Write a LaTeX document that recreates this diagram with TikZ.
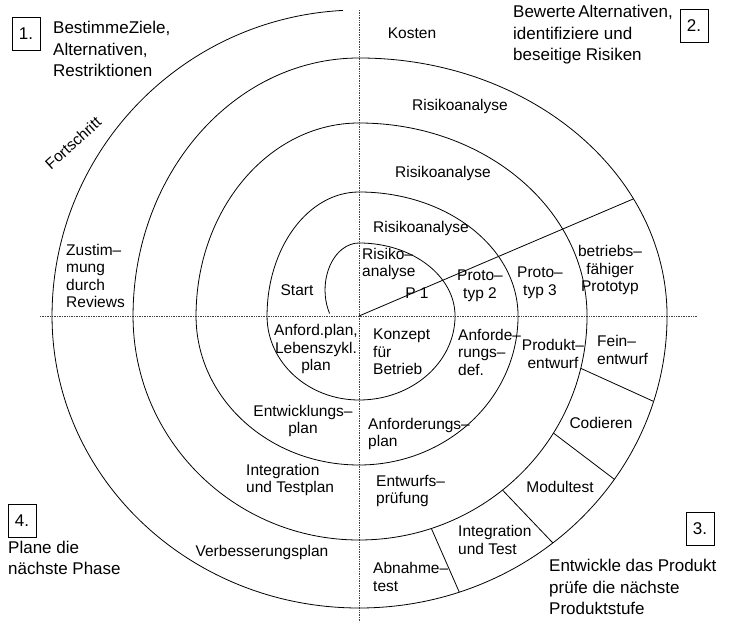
\documentclass[tikz,border=0pt]{standalone}
\usepackage{fontspec}
\setmainfont{Liberation Sans}
\tikzset{
  lbl/.style={font=\fontsize{15.5}{17.5}\selectfont, inner sep=0pt, align=center},
  lbll/.style={lbl, align=left, anchor=west},
  corner/.style={font=\fontsize{17}{21.5}\selectfont, inner sep=0pt, align=left, anchor=west},
  numbox/.style={draw, line width=0.8pt, minimum width=28pt, minimum height=33pt,
                 inner sep=0pt, font=\fontsize{17}{20}\selectfont},
  spiral/.style={line width=0.8pt},
  axis/.style={densely dotted, line width=0.7pt, black!75},
}

\begin{document}
\begin{tikzpicture}[x=1pt, y=1pt]
    \useasboundingbox (-359,-310) rectangle (372,316);

    % quadrant axes
    \draw[axis] (-319,0) -- (338,0);
    \draw[axis] (0,306) -- (0,-306);

    % spiral, one quarter at a time
    \coordinate (s0) at (-29.4,2.5);
    \draw[spiral] (s0) arc[start angle=210, end angle=90, x radius=34, y radius=47]
      arc[start angle=90, end angle=0, x radius=96, y radius=73]
      arc[start angle=0, end angle=-90, x radius=96, y radius=84]
      arc[start angle=-90, end angle=-180, x radius=92, y radius=84]
      arc[start angle=180, end angle=90, x radius=92, y radius=124]
      arc[start angle=90, end angle=0, x radius=159, y radius=124]
      arc[start angle=0, end angle=-90, x radius=159, y radius=149]
      arc[start angle=-90, end angle=-180, x radius=163, y radius=149]
      arc[start angle=180, end angle=90, x radius=163, y radius=193]
      arc[start angle=90, end angle=0, x radius=228, y radius=193]
      arc[start angle=0, end angle=-90, x radius=228, y radius=224]
      arc[start angle=-90, end angle=-180, x radius=226, y radius=224]
      arc[start angle=180, end angle=90, x radius=226, y radius=258]
      arc[start angle=90, end angle=0, x radius=308, y radius=258]
      arc[start angle=0, end angle=-90, x radius=308, y radius=292]
      arc[start angle=-90, end angle=-180, x radius=307, y radius=292]
      arc[start angle=180, end angle=93, x radius=307, y radius=306];

    % prototype ray and product-step dividers
    \draw[spiral] (0,0) -- (27:308 and 258);
    \foreach \a/\b in {-13.5/-17, -31.5/-34, -51/-51, -71.5/-71}
      \draw[spiral] (\a:228 and 224) -- (\b:308 and 292);

    % quadrant headings
    \node[numbox] (q1) at (-333,282) {1.};
    \node[corner] (goal1) at (-306,267) {BestimmeZiele,\\Alternativen,\\Restriktionen};
    \node[numbox] (q2) at (335,290) {2.};
    \node[corner] (goal2) at (154,281) {Bewerte\,Alternativen,\\identifiziere und\\beseitige Risiken};
    \node[numbox] (q3) at (341,-213) {3.};
    \node[corner] (goal3) at (190,-271) {Entwickle das Produkt\\prüfe die nächste\\Produktstufe};
    \node[numbox] (q4) at (-337,-205) {4.};
    \node[corner] (goal4) at (-351,-242) {Plane die\\nächste Phase};

    \node[lbl, rotate=42] (prog) at (-286,173) {Fortschritt};

    % quadrant 2
    \node[lbl] (cost) at (53,283) {Kosten};
    \node[lbl] (ra4) at (101,210) {Risikoanalyse};
    \node[lbl] (ra3) at (84,143) {Risikoanalyse};
    \node[lbl] (ra2) at (62,88) {Risikoanalyse};
    \node[lbll] (ra1) at (3,52) {Risiko–\\analyse};
    \node[lbl] (p1) at (58,23) {P 1};
    \node[lbl] (p2) at (121,30) {Proto–\\typ 2};
    \node[lbl] (p3) at (181,33) {Proto–\\typ 3};
    \node[lbl] (p4) at (251,46) {betriebs–\\fähiger\\Prototyp};

    % quadrant 1
    \node[lbll] (rev) at (-293,40) {Zustim–\\mung\\durch\\Reviews};
    \node[lbl] (start) at (-62,26) {Start};

    % quadrant 4
    \node[lbl] (lcp) at (-43,-33) {Anford.plan,\\Lebenszykl.\\plan};
    \node[lbl] (dvp) at (-56,-105) {Entwicklungs–\\plan};
    \node[lbll] (itp) at (-113,-164) {Integration\\und Testplan};
    \node[lbl] (imp) at (-97,-236) {Verbesserungsplan};

    % quadrant 3
    \node[lbll] (conc) at (14,-36) {Konzept\\für\\Betrieb};
    \node[lbll] (req) at (99,-36) {Anforde–\\rungs–\\def.};
    \node[lbl] (pde) at (194,-38) {Produkt–\\entwurf};
    \node[lbll] (dde) at (238,-34) {Fein–\\entwurf};
    \node[lbl] (code) at (242,-107) {Codieren};
    \node[lbl] (unit) at (201,-171) {Modultest};
    \node[lbll] (intt) at (99,-224) {Integration\\und Test};
    \node[lbll] (rqp) at (9,-118) {Anforderungs–\\plan};
    \node[lbll] (dvv) at (17,-175) {Entwurfs–\\prüfung};
    \node[lbll] (acc) at (14,-261) {Abnahme–\\test};
\end{tikzpicture}
\end{document}
